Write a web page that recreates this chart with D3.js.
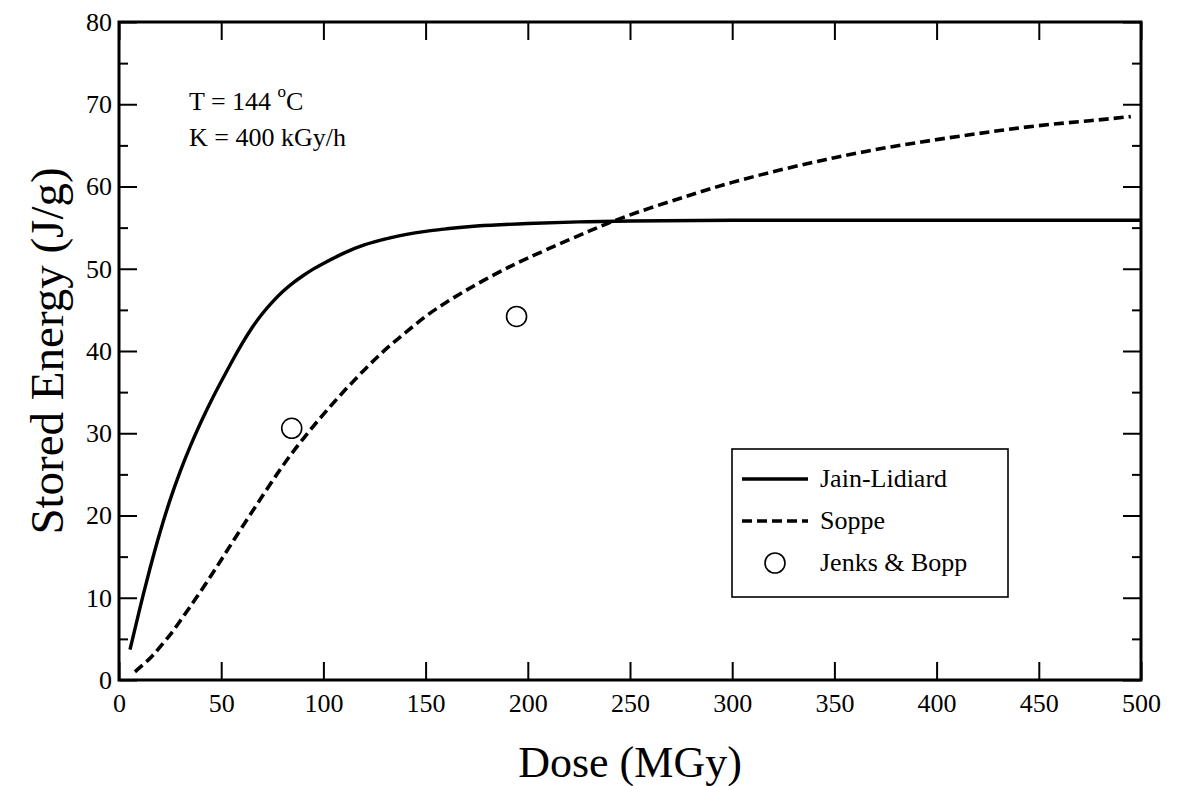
<!DOCTYPE html>
<html>
<head>
<meta charset="utf-8">
<script src="https://cdn.jsdelivr.net/npm/d3@7"></script>
<style>
  body { margin: 0; background: #fff; }
  svg text { font-family: "Liberation Serif", "Times New Roman", serif; fill: #000; }
  .axis path { display: none; }
  .axis line { stroke: #000; stroke-width: 2; }
</style>
</head>
<body>
<svg id="chart" width="1189" height="786"></svg>
<script>
// Jain-Lidiard model (solid)
var jainDose   = [5.4, 10, 15, 20, 25, 30, 35, 40, 45, 50, 55, 60, 65, 70, 75, 80, 85, 90, 95, 100, 110, 120, 130, 140, 150, 160, 175, 200, 225, 250, 300, 400, 500]
var jainEnergy = [3.7, 8.5, 13.4, 17.9, 21.9, 25.4, 28.5, 31.3, 33.9, 36.3, 38.6, 40.8, 42.8, 44.5, 45.95, 47.2, 48.25, 49.15, 49.95, 50.65, 51.9, 52.9, 53.6, 54.15, 54.55, 54.85, 55.2, 55.5, 55.7, 55.8, 55.9, 55.9, 55.9]

// Soppe model (dashed)
var soppeDose   = [7.8, 15, 20, 25, 30, 40, 50, 60, 70, 80, 90, 100, 110, 120, 130, 140, 150, 160, 170, 180, 190, 200, 220, 240, 260, 280, 300, 325, 350, 375, 400, 425, 450, 475, 495]
var soppeEnergy = [1.0, 2.6, 4.0, 5.5, 7.2, 10.8, 14.6, 18.5, 22.3, 26.0, 29.3, 32.3, 35.1, 37.7, 40.1, 42.2, 44.2, 45.9, 47.4, 48.8, 50.1, 51.3, 53.5, 55.6, 57.4, 59.0, 60.5, 62.1, 63.5, 64.7, 65.7, 66.6, 67.4, 68.0, 68.5]

// Jenks & Bopp measurements (open circles)
var jenksDose   = [84.5, 194.5]
var jenksEnergy = [30.6, 44.2]

var xTicks = [0, 50, 100, 150, 200, 250, 300, 350, 400, 450, 500]
var yTicks = [0, 10, 20, 30, 40, 50, 60, 70, 80]
var yMinorTicks = [5, 15, 25, 35, 45, 55, 65, 75]

var legendNames = ["Jain-Lidiard", "Soppe", "Jenks & Bopp"]

var svg = d3.select("#chart")
const margins = {top: 22, right: 48, bottom: 106, left: 119}
var width = 1189 - margins.left - margins.right
var height = 786 - margins.top - margins.bottom

var x = d3.scaleLinear().domain([0, 500]).range([0, width])
var y = d3.scaleLinear().domain([0, 80]).range([height, 0])

var g = svg.append("g").attr("transform", "translate(" + margins.left + "," + margins.top + ")")

// axes: ticks point inward on all four sides
g.append("g").attr("class", "axis")
    .attr("transform", "translate(0," + height + ")")
    .call(d3.axisBottom(x).tickValues(xTicks).tickSize(-18).tickPadding(14).tickFormat(d3.format("d")))
    .selectAll("text").attr("font-size", 26).attr("dy", "0.71em")
g.append("g").attr("class", "axis")
    .call(d3.axisTop(x).tickValues(xTicks).tickSize(-18).tickFormat(""))
g.append("g").attr("class", "axis")
    .call(d3.axisLeft(y).tickValues(yTicks).tickSize(-18).tickPadding(7))
    .selectAll("text").attr("font-size", 26)
g.append("g").attr("class", "axis")
    .call(d3.axisLeft(y).tickValues(yMinorTicks).tickSize(-9).tickFormat(""))
g.append("g").attr("class", "axis")
    .attr("transform", "translate(" + width + ",0)")
    .call(d3.axisRight(y).tickValues(yTicks).tickSize(-18).tickFormat(""))
g.append("g").attr("class", "axis")
    .attr("transform", "translate(" + width + ",0)")
    .call(d3.axisRight(y).tickValues(yMinorTicks).tickSize(-9).tickFormat(""))
g.selectAll(".axis").attr("font-family", null)

g.append("rect")
    .attr("width", width).attr("height", height)
    .attr("fill", "none").attr("stroke", "#000").attr("stroke-width", 3)

var line = d3.line().x(d => x(d[0])).y(d => y(d[1])).curve(d3.curveNatural)

g.append("path")
    .datum(d3.zip(jainDose, jainEnergy))
    .attr("fill", "none").attr("stroke", "#000").attr("stroke-width", 3.4)
    .attr("d", line)

g.append("path")
    .datum(d3.zip(soppeDose, soppeEnergy))
    .attr("fill", "none").attr("stroke", "#000").attr("stroke-width", 3.6)
    .attr("stroke-dasharray", "10,5")
    .attr("d", line)

g.selectAll("circle.jenks")
    .data(d3.zip(jenksDose, jenksEnergy)).enter()
    .append("circle").attr("class", "jenks")
    .attr("cx", d => x(d[0])).attr("cy", d => y(d[1])).attr("r", 10)
    .attr("fill", "none").attr("stroke", "#000").attr("stroke-width", 1.6)

// conditions note
var note = g.append("text").attr("x", 70).attr("y", 88).attr("font-size", 26)
note.append("tspan").text("T = 144 ")
note.append("tspan").attr("font-size", 17).attr("dy", -13).text("o")
note.append("tspan").attr("dy", 13).text("C")
g.append("text").attr("x", 70).attr("y", 124).attr("font-size", 26).text("K = 400 kGy/h")

// legend
var legend = svg.append("g").attr("transform", "translate(732,449)")
legend.append("rect").attr("width", 276).attr("height", 148)
    .attr("fill", "#fff").attr("stroke", "#000").attr("stroke-width", 1.6)
var items = legend.selectAll("g.item").data(legendNames).enter()
    .append("g").attr("class", "item")
    .attr("transform", (d, i) => "translate(0," + (30 + i * 42) + ")")
items.append("text").attr("x", 88).attr("y", 8).attr("font-size", 26).text(d => d)
items.filter((d, i) => i == 0).append("line")
    .attr("x1", 10).attr("x2", 76).attr("stroke", "#000").attr("stroke-width", 3.4)
items.filter((d, i) => i == 1).append("line")
    .attr("x1", 10).attr("x2", 76).attr("stroke", "#000").attr("stroke-width", 3.6)
    .attr("stroke-dasharray", "10,5")
items.filter((d, i) => i == 2).append("circle")
    .attr("cx", 43).attr("r", 10).attr("fill", "none").attr("stroke", "#000").attr("stroke-width", 1.6)

// axis titles
svg.append("text").attr("x", margins.left + width / 2).attr("y", 777)
    .attr("text-anchor", "middle").attr("font-size", 44).text("Dose (MGy)")
svg.append("text")
    .attr("transform", "translate(63," + (margins.top + height / 2) + ") rotate(-90)")
    .attr("text-anchor", "middle").attr("font-size", 47).text("Stored Energy (J/g)")
</script>
</body>
</html>
